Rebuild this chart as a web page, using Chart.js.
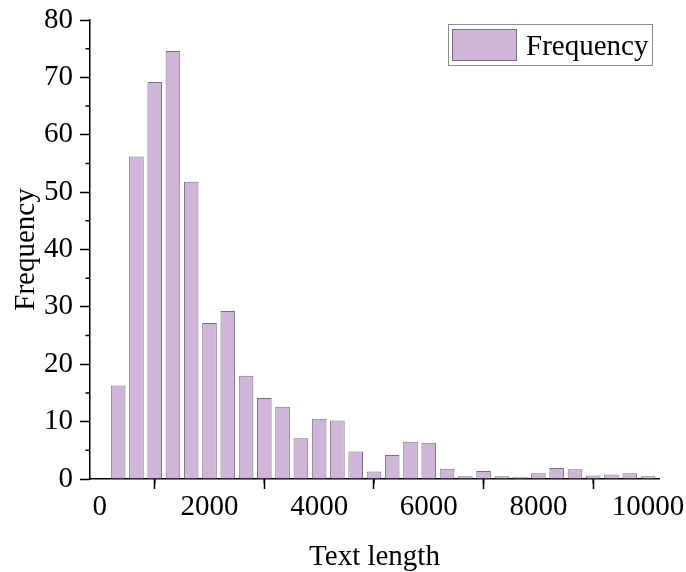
<!DOCTYPE html>
<html lang="en">
<head>
<meta charset="UTF-8">
<title>Text length histogram</title>
<script src="https://cdn.jsdelivr.net/npm/chart.js"></script>
<style>
  html, body { margin: 0; padding: 0; background: #fff; }
  #wrap { width: 686px; height: 572px; }
</style>
</head>
<body>
<div id="wrap"><canvas id="chart" width="686" height="572"></canvas></div>
<script>
// bin centres (text length) and counts
const binCenters = [333, 667, 1000, 1333, 1667, 2000, 2333, 2667, 3000, 3333,
                    3667, 4000, 4333, 4667, 5000, 5333, 5667, 6000, 6333, 6667,
                    7000, 7333, 7667, 8000, 8333, 8667, 9000, 9333, 9667, 10000];
const frequency = [16.3, 56.2, 69.2, 74.6, 51.8, 27.2, 29.3, 18.0, 14.1, 12.6,
                   7.1, 10.5, 10.2, 4.8, 1.3, 4.2, 6.5, 6.3, 1.8, 0.5,
                   1.4, 0.5, 0.4, 1.0, 1.9, 1.7, 0.6, 0.8, 1.0, 0.5];
const xTicks = [0, 2000, 4000, 6000, 8000, 10000];
const yTicks = [0, 10, 20, 30, 40, 50, 60, 70, 80];

const FONT = "'Liberation Serif', 'Times New Roman', serif";
const FILL = '#cfb5d7';
const EDGE = '#7b6d80';

// minor ticks halfway between the major ones, plus the boxed legend
const extras = {
  id: 'extras',
  afterDraw(chart) {
    const ctx = chart.ctx;
    const xs = chart.scales.x, ys = chart.scales.y;
    ctx.save();
    ctx.strokeStyle = '#000';
    ctx.lineWidth = 1.5;
    ctx.beginPath();
    for (let i = 0; i < yTicks.length - 1; i++) {
      const py = ys.getPixelForValue((yTicks[i] + yTicks[i + 1]) / 2);
      ctx.moveTo(ys.right, py); ctx.lineTo(ys.right - 4.5, py);
    }
    for (let i = 0; i < xTicks.length - 1; i++) {
      const px = xs.getPixelForValue((xTicks[i] + xTicks[i + 1]) / 2);
      ctx.moveTo(px, xs.top); ctx.lineTo(px, xs.top + 4.5);
    }
    ctx.stroke();

    // legend
    const ca = chart.chartArea;
    const bx = ca.right - 211, by = ca.top + 4;
    ctx.lineWidth = 1;
    ctx.strokeStyle = '#8c8c8c';
    ctx.strokeRect(bx + 0.5, by + 0.5, 204, 41);
    ctx.fillStyle = FILL;
    ctx.fillRect(bx + 4, by + 5, 65, 32);
    ctx.strokeStyle = EDGE;
    ctx.strokeRect(bx + 4.5, by + 5.5, 64, 31);
    ctx.fillStyle = '#000';
    ctx.font = '29px ' + FONT;
    ctx.textBaseline = 'alphabetic';
    ctx.fillText(chart.data.datasets[0].label, bx + 78, by + 31);
    ctx.restore();
  }
};

new Chart(document.getElementById('chart'), {
  type: 'bar',
  data: {
    datasets: [{
      label: 'Frequency',
      data: binCenters.map((x, i) => ({ x: x, y: frequency[i] })),
      backgroundColor: FILL,
      borderColor: EDGE,
      borderWidth: 1,
      barPercentage: 0.8,
      categoryPercentage: 1.0
    }]
  },
  options: {
    responsive: false,
    animation: false,
    layout: { padding: { top: 20, right: 27, left: 0, bottom: 0 } },
    plugins: {
      tooltip: { enabled: false },
      legend: { display: false }
    },
    scales: {
      x: {
        type: 'linear',
        min: -180,
        max: 10200,
        offset: false,
        afterFit(s) { s.height = 93; s.paddingRight = 0; },
        border: { display: true, color: '#000', width: 1.5 },
        grid: { drawOnChartArea: false, drawTicks: true, tickLength: 10, color: '#000', tickWidth: 1.5 },
        afterBuildTicks(s) { s.ticks = xTicks.map(v => ({ value: v })); },
        ticks: {
          includeBounds: false,
          color: '#000',
          font: { family: FONT, size: 29 },
          padding: 1,
          maxRotation: 0,
          autoSkip: false,
          callback: v => String(v)
        },
        title: {
          display: true,
          text: 'Text length',
          color: '#000',
          font: { family: FONT, size: 29 },
          padding: { top: 0, bottom: -3 }
        }
      },
      y: {
        min: 0,
        max: 80,
        afterFit(s) { s.width = 90; s.paddingTop = 0; s.paddingBottom = 0; },
        border: { display: true, color: '#000', width: 1.5 },
        grid: { drawOnChartArea: false, drawTicks: true, tickLength: 10, color: '#000', tickWidth: 1.5 },
        afterBuildTicks(s) { s.ticks = yTicks.map(v => ({ value: v })); },
        ticks: {
          color: '#000',
          font: { family: FONT, size: 29 },
          padding: 7,
          autoSkip: false,
          callback: v => String(v)
        },
        title: {
          display: true,
          text: 'Frequency',
          color: '#000',
          font: { family: FONT, size: 29 },
          padding: { top: 9, bottom: 9 }
        }
      }
    }
  },
  plugins: [extras]
});
</script>
</body>
</html>
